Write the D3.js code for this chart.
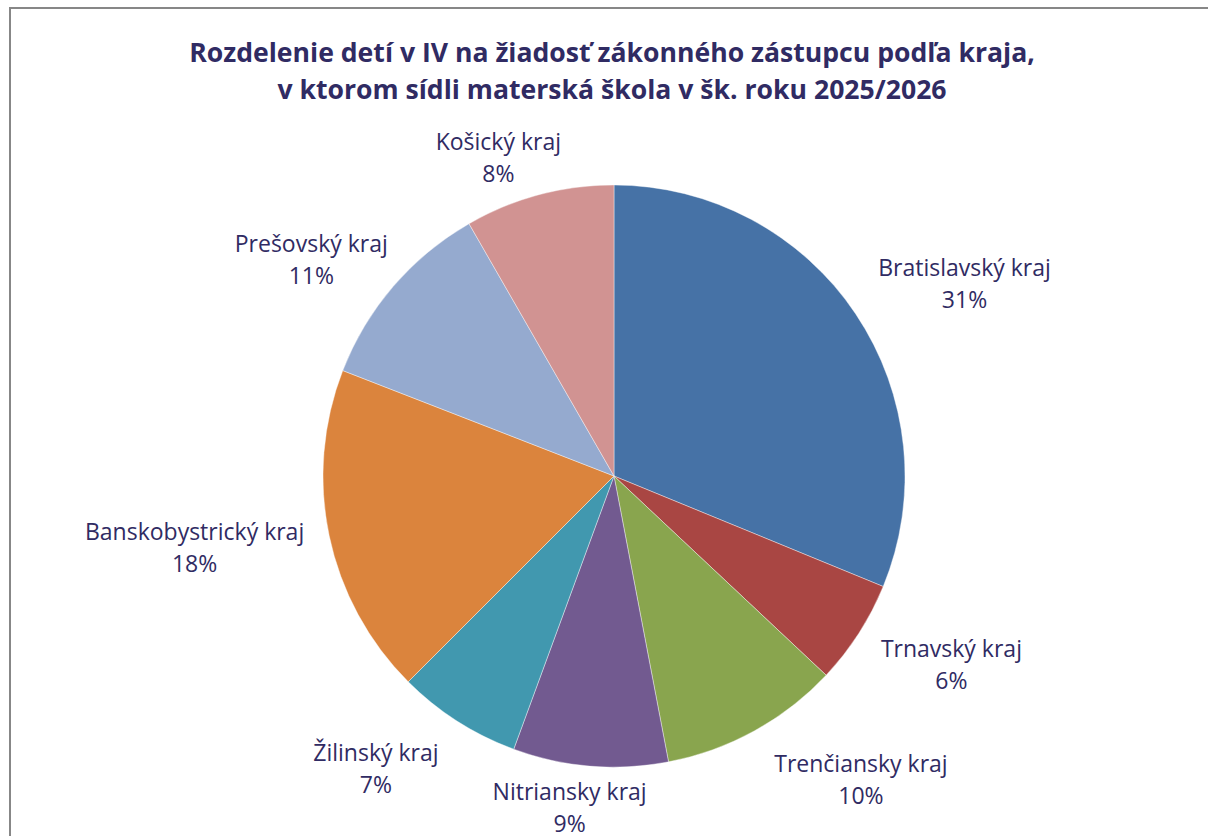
<!DOCTYPE html>
<html>
<head>
<meta charset="utf-8">
<script src="https://cdn.jsdelivr.net/npm/d3@7"></script>
<style>
    body { margin: 0; background: #fff; }
    text { font-family: "Open Sans", Lato, sans-serif; }
</style>
</head>
<body>
<script>
// Share of children per region (percent), clockwise from 12 o'clock
var regions = ["Bratislavský kraj", "Trnavský kraj", "Trenčiansky kraj",
    "Nitriansky kraj", "Žilinský kraj", "Banskobystrický kraj",
    "Prešovský kraj", "Košický kraj"];
var shares = [31.2, 5.8, 10.0, 8.6, 6.9, 18.4, 10.8, 8.3];
var colors = ["#4672a6", "#a94643", "#89a54e", "#725a90", "#4198af",
    "#db843d", "#95aacf", "#d19392"];
var titleLines = [
    "Rozdelenie detí v IV na žiadosť zákonného zástupcu podľa kraja,",
    "v ktorom sídli materská škola v šk. roku 2025/2026"
];

// small label nudges (px) to follow the original label placement
var labelNudge = [[13, 2], [9, 1], [51, -1], [-12, -15], [-32, 0],
    [1, 0], [-2, 11], [-17, 18]];

var width = 1208, height = 836;
var cx = 614, cy = 476, radius = 291, labelGap = 29;
var ink = "#302b63";

var svg = d3.select("body").append("svg")
    .attr("width", width)
    .attr("height", height);

// chart frame (only top and left edges are visible)
svg.append("path")
    .attr("d", "M10," + height + " L10,8 L" + width + ",8")
    .attr("fill", "none")
    .attr("stroke", "#878787")
    .attr("stroke-width", 2);

// title
svg.append("text")
    .attr("x", 612)
    .attr("y", 62)
    .attr("text-anchor", "middle")
    .attr("font-size", "26.6px")
    .attr("font-weight", "bold")
    .attr("fill", ink)
    .selectAll("tspan")
    .data(titleLines)
    .enter()
    .append("tspan")
    .attr("x", 612)
    .attr("dy", function(d, i) { return i === 0 ? 0 : 37; })
    .text(function(d) { return d; });

var data = regions.map(function(r, i) {
    return {name: r, value: shares[i], color: colors[i], nudge: labelNudge[i]};
});

var pie = d3.pie()
    .sort(null)
    .value(function(d) { return d.value; });

var arc = d3.arc()
    .innerRadius(0)
    .outerRadius(radius);

var g = svg.append("g")
    .attr("transform", "translate(" + cx + "," + cy + ")");

var arcs = pie(data);

g.selectAll("path.slice")
    .data(arcs)
    .enter()
    .append("path")
    .attr("class", "slice")
    .attr("d", arc)
    .attr("fill", function(d) { return d.data.color; })
    .attr("stroke", "#fff")
    .attr("stroke-width", 0.4);

// labels: box placed just outside the arc along the slice mid angle
var lineH = 32, fontSize = 23;
var labels = g.selectAll("g.label")
    .data(arcs)
    .enter()
    .append("g")
    .attr("class", "label");

labels.each(function(d) {
    var sel = d3.select(this);
    var t = sel.append("text")
        .attr("text-anchor", "middle")
        .attr("font-size", fontSize + "px")
        .attr("fill", ink);
    t.append("tspan").attr("x", 0).attr("y", -lineH / 2 + 8)
        .text(d.data.name);
    t.append("tspan").attr("x", 0).attr("y", lineH / 2 + 8)
        .text(Math.round(d.data.value) + "%");
    var w = t.node().getBBox().width, h = 56;
    var a = (d.startAngle + d.endAngle) / 2;
    var s = Math.sin(a), c = Math.cos(a);
    var r = radius + labelGap;
    var x = r * s + w / 2 * s + d.data.nudge[0];
    var y = -r * c - h / 2 * c + d.data.nudge[1];
    sel.attr("transform", "translate(" + x + "," + y + ")");
});
</script>
</body>
</html>
